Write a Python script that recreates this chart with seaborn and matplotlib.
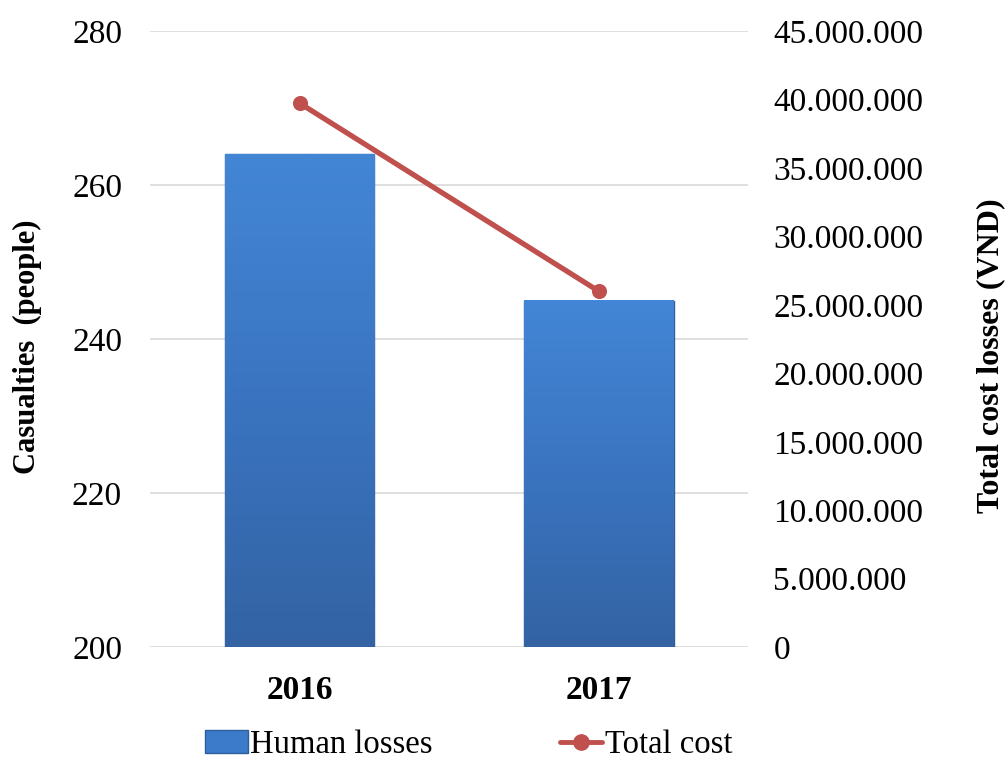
import numpy as np
import pandas as pd
import seaborn as sns
import matplotlib
import matplotlib.pyplot as plt
from matplotlib.ticker import FuncFormatter
from matplotlib.patches import Patch
from matplotlib.lines import Line2D
from matplotlib.colors import LinearSegmentedColormap

matplotlib.use('Agg')

years = ["2016", "2017"]
human_losses = [264, 245]
total_cost = [39750000, 26000000]

df = pd.DataFrame({"year": years, "human": human_losses, "cost": total_cost})

sns.set_style("white")
plt.rcParams['font.family'] = ['Liberation Serif', 'DejaVu Serif']
plt.rcParams['text.color'] = 'black'
plt.rcParams['axes.labelcolor'] = 'black'
plt.rcParams['xtick.color'] = 'black'
plt.rcParams['ytick.color'] = 'black'

fig, ax1 = plt.subplots(figsize=(10.06, 7.63), dpi=100)
fig.subplots_adjust(left=0.149, right=0.744, top=0.959, bottom=0.152)

bar_color = '#3b7bca'
sns.barplot(data=df, x="year", y="human", ax=ax1, color=bar_color,
            width=0.5, edgecolor='#2f5f9a', linewidth=1.0, saturation=1)

ymin, ymax = 200, 280

# vertical gradient on the visible part of each bar
grad = LinearSegmentedColormap.from_list("bar", ['#3363a3', '#3a74c0', '#4386d6'])
for p in ax1.patches:
    x0, w, top = p.get_x(), p.get_width(), p.get_y() + p.get_height()
    ax1.imshow(np.linspace(0, 1, 256).reshape(-1, 1), cmap=grad,
               origin='lower', aspect='auto',
               extent=[x0, x0 + w, ymin, top], zorder=p.get_zorder() + 0.1)

ax1.set_ylim(ymin, ymax)
ax1.set_yticks([200, 220, 240, 260, 280])
ax1.yaxis.grid(True, color='#d9d9d9', linewidth=1.2)
ax1.set_axisbelow(True)
ax1.set_xlim(-0.5, 1.5)
ax1.set_xlabel("")
ax1.set_ylabel("Casualties  (people)", fontsize=22, fontweight='bold')
ax1.yaxis.set_label_coords(-0.18, 0.487)
ax1.tick_params(axis='y', labelsize=24, length=0, pad=20)
ax1.tick_params(axis='x', labelsize=24, length=0, pad=20)
for lab in ax1.get_xticklabels():
    lab.set_fontweight('bold')

ax2 = ax1.twinx()
line_color = '#c0504d'
sns.pointplot(data=df, x="year", y="cost", ax=ax2, color=line_color,
              markers='o', markersize=8, linewidth=3.8)
ax2.set_ylim(0, 45000000)
ax2.set_yticks(np.arange(0, 45000001, 5000000))
ax2.yaxis.set_major_formatter(FuncFormatter(
    lambda v, p: "0" if v == 0 else f"{int(v):,}".replace(",", ".")))
ax2.set_ylabel("Total cost losses (VND)", fontsize=23, fontweight='bold')
ax2.yaxis.set_label_coords(1.38, 0.473)
ax2.tick_params(axis='y', labelsize=24, length=0, pad=18)
ax2.set_xlabel("")
ax2.set_xlim(-0.5, 1.5)

for ax in (ax1, ax2):
    for s in ax.spines.values():
        s.set_visible(False)

handles = [Patch(facecolor=bar_color, edgecolor='#2f5f9a'),
           Line2D([0], [0], color=line_color, linewidth=3.5, marker='o',
                  markersize=11, markerfacecolor=line_color)]
fig.legend(handles, ["Human losses", "Total cost"], loc='center',
           bbox_to_anchor=(0.466, 0.024), ncol=2, frameon=False, fontsize=23.5,
           handlelength=1.3, handletextpad=0.08, columnspacing=3.9)

fig.savefig("out.png", dpi=100)
